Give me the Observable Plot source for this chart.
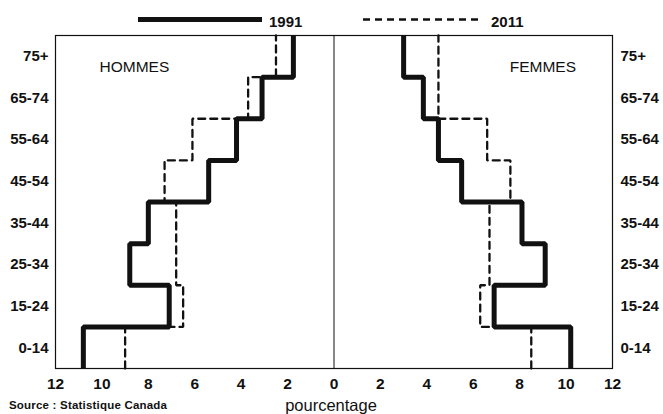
<!DOCTYPE html>
<html>
<head>
<meta charset="utf-8">
<script src="https://cdn.jsdelivr.net/npm/d3@7"></script>
<script src="https://cdn.jsdelivr.net/npm/@observablehq/plot@0.6"></script>
<style>
  body { margin: 0; background: #fff; font-family: "Liberation Sans", Arial, Helvetica, sans-serif; }
  #wrap { position: relative; width: 663px; height: 414px; overflow: hidden; }
  #wrap svg.plot { position: absolute; left: 0; top: 0; }
  .abs { position: absolute; white-space: nowrap; color: #111; }
  .leg { font-size: 15px; font-weight: bold; line-height: 15px; }
</style>
</head>
<body>
<div id="wrap">
  <svg class="abs" style="left:138px;top:14px" width="124" height="12"><line x1="0" x2="124" y1="5.5" y2="5.5" stroke="#111" stroke-width="5"/></svg>
  <div class="abs leg" style="left:269px;top:14px">1991</div>
  <svg class="abs" style="left:363px;top:14px" width="118" height="12"><line x1="0" x2="118" y1="5.5" y2="5.5" stroke="#111" stroke-width="2.5" stroke-dasharray="7,5"/></svg>
  <div class="abs leg" style="left:491px;top:14px">2011</div>
  <div class="abs" style="left:9px;top:399px;font-size:11.5px;line-height:13px;font-weight:bold;letter-spacing:0.2px;">Source : Statistique Canada</div>
  <div class="abs" style="left:331px;top:397px;transform:translateX(-50%);font-size:16.5px;line-height:16px;">pourcentage</div>
</div>
<script>
// Age groups (bottom to top)
const ages = ["0-14", "15-24", "25-34", "35-44", "45-54", "55-64", "65-74", "75+"];
// Percentages
const hommes1991 = [10.8, 7.1, 8.8, 8.0, 5.4, 4.2, 3.1, 1.75];
const hommes2011 = [9.0, 6.5, 6.8, 6.8, 7.3, 6.1, 3.7, 2.5];
const femmes1991 = [10.2, 6.9, 9.1, 8.1, 5.5, 4.5, 3.85, 3.0];
const femmes2011 = [8.5, 6.3, 6.7, 6.7, 7.6, 6.6, 4.5, 4.5];
const xTicks = [-12, -10, -8, -6, -4, -2, 0, 2, 4, 6, 8, 10, 12];

// Each age group occupies one band [i, i+1] on a continuous y scale
const steps = (vals, sign, series) =>
  vals.flatMap((v, i) => [{x: sign * v, y: i, series}, {x: sign * v, y: i + 1, series}]);

const solid = [...steps(hommes1991, -1, "H1991"), ...steps(femmes1991, 1, "F1991")];
const dashed = [...steps(hommes2011, -1, "H2011"), ...steps(femmes2011, 1, "F2011")];
const ageTicks = ages.map((d, i) => i + 0.5);
const ageFmt = (t) => ages[Math.floor(t)];

const chart = Plot.plot({
  width: 663,
  height: 414,
  marginTop: 35,
  marginBottom: 46,
  marginLeft: 55,
  marginRight: 51,
  style: {fontFamily: '"Liberation Sans", Arial, Helvetica, sans-serif', fontSize: "15px", fontWeight: "bold", color: "#111", background: "transparent"},
  x: {domain: [-12, 12]},
  y: {domain: [0, 8]},
  marks: [
    Plot.frame({stroke: "#111", strokeWidth: 1.2}),
    Plot.ruleX([0], {stroke: "#111", strokeWidth: 1}),
    Plot.axisX({ticks: xTicks, tickFormat: (d) => Math.abs(d), tickSize: 0, tickPadding: 9, label: null, fontSize: 15.5, fontWeight: "bold"}),
    Plot.axisY({anchor: "left", ticks: ageTicks, tickFormat: ageFmt, tickSize: 0, tickPadding: 7, label: null, fontSize: 15, fontWeight: "bold"}),
    Plot.axisY({anchor: "right", ticks: ageTicks, tickFormat: ageFmt, tickSize: 0, tickPadding: 8, label: null, fontSize: 15, fontWeight: "bold"}),
    Plot.line(dashed, {x: "x", y: "y", z: "series", stroke: "#111", strokeWidth: 2.3, strokeDasharray: "7,5", strokeLinejoin: "miter"}),
    Plot.line(solid, {x: "x", y: "y", z: "series", stroke: "#111", strokeWidth: 5, strokeLinejoin: "miter", strokeLinecap: "butt"}),
    Plot.text(["HOMMES"], {x: -8.6, y: 7.25, text: (d) => d, fontSize: 15.5, fontWeight: "normal", fill: "#111"}),
    Plot.text(["FEMMES"], {x: 9.0, y: 7.25, text: (d) => d, fontSize: 15.5, fontWeight: "normal", fill: "#111"})
  ]
});
document.getElementById("wrap").prepend(chart);
</script>
</body>
</html>
